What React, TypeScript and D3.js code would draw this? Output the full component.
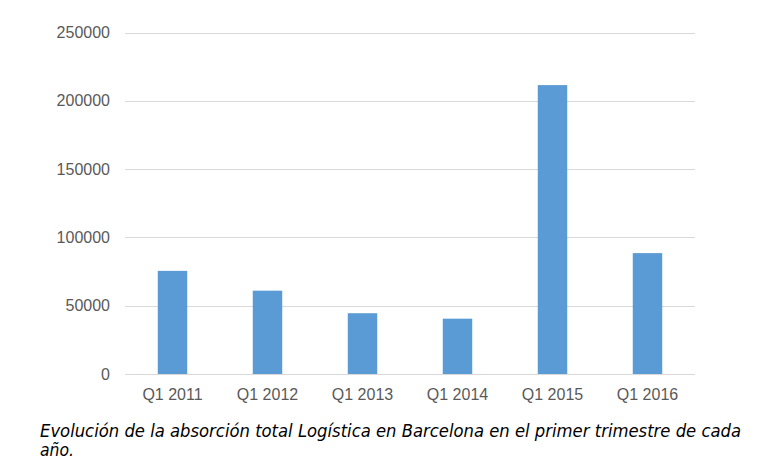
import React from "react";
import * as d3 from "d3";

const categories = ["Q1 2011", "Q1 2012", "Q1 2013", "Q1 2014", "Q1 2015", "Q1 2016"];
const values = [75500, 61000, 44500, 40500, 211500, 88500];
const yTicks = [0, 50000, 100000, 150000, 200000, 250000];
const captionLines = [
  "Evolución de la absorción total Logística en Barcelona en el primer trimestre de cada",
  "año.",
];

const W = 771;
const H = 466;

export default function App() {
  const x = d3
    .scaleBand<string>()
    .domain(categories)
    .range([125, 695])
    .paddingInner(0.69)
    .paddingOuter(0.345);
  const y = d3.scaleLinear().domain([0, 250000]).range([374, 32.5]);

  return (
    <svg
      width={W}
      height={H}
      style={{ position: "absolute", left: 0, top: 0, background: "#fff" }}
    >
      <rect width={W} height={H} fill="#fff" />
      {yTicks.map((t) => (
        <g key={t}>
          <line
            x1={125}
            x2={695}
            y1={Math.round(y(t)) + 0.5}
            y2={Math.round(y(t)) + 0.5}
            stroke="#d9d9d9"
            strokeWidth={1}
          />
          <text
            x={110}
            y={y(t)}
            dy="0.35em"
            textAnchor="end"
            fontFamily="Liberation Sans, Arial, sans-serif"
            fontSize={16}
            fill="#595959"
          >
            {t}
          </text>
        </g>
      ))}
      {categories.map((c, i) => (
        <rect
          key={c}
          x={x(c)}
          y={y(values[i])}
          width={x.bandwidth()}
          height={y(0) - y(values[i])}
          fill="#5b9bd5"
        />
      ))}
      {categories.map((c) => (
        <text
          key={c}
          x={(x(c) as number) + x.bandwidth() / 2}
          y={400}
          textAnchor="middle"
          fontFamily="Liberation Sans, Arial, sans-serif"
          fontSize={16}
          fill="#595959"
        >
          {c}
        </text>
      ))}
      <text
        x={40}
        y={437}
        fontFamily="Liberation Sans Narrow, DejaVu Sans Condensed, sans-serif"
        fontStyle="italic"
        fontSize={17}
        fill="#000"
        textLength={701}
        lengthAdjust="spacingAndGlyphs"
      >
        {captionLines[0]}
      </text>
      <text
        x={40}
        y={456}
        fontFamily="Liberation Sans Narrow, DejaVu Sans Condensed, sans-serif"
        fontStyle="italic"
        fontSize={17}
        fill="#000"
        textLength={34}
        lengthAdjust="spacingAndGlyphs"
      >
        {captionLines[1]}
      </text>
    </svg>
  );
}
